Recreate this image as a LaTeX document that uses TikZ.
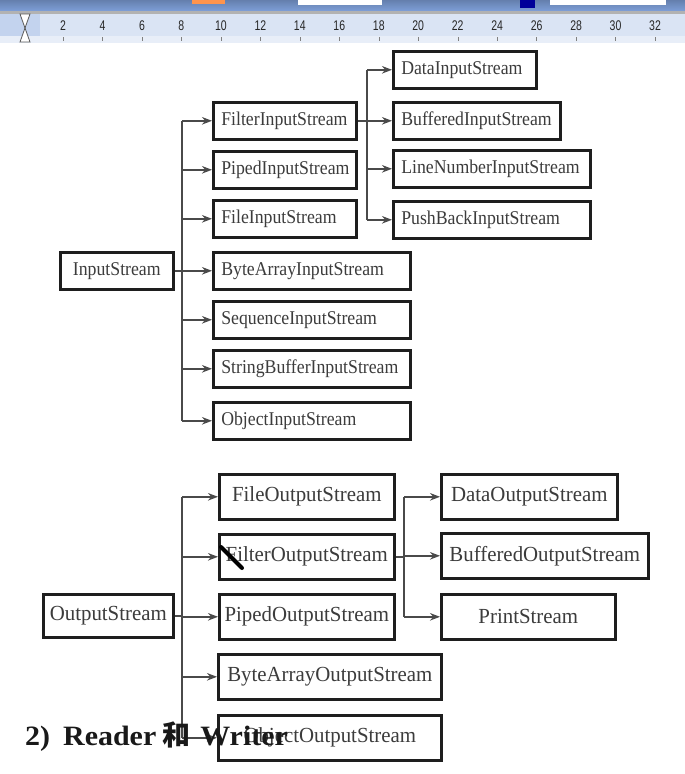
\documentclass[tikz,border=0pt]{standalone}
\usepackage{fontspec}
\setmainfont{Liberation Serif}
\newfontfamily\ifontfam[FakeStretch=0.91]{Liberation Serif}
\newfontfamily\ofontfam[FakeStretch=0.97]{Liberation Serif}
\newfontfamily\headfont[FakeStretch=1.07]{Liberation Serif}
\newfontfamily\cjkfont{Noto Sans CJK SC}
\newfontfamily\rulerfont[FakeStretch=0.75]{Liberation Sans}
\usetikzlibrary{arrows.meta}
\definecolor{boxc}{HTML}{1E1E1E}
\definecolor{linec}{HTML}{4A4A4A}
\definecolor{txtc}{HTML}{3C3C3C}
\definecolor{tbar}{HTML}{7E9FD8}
\definecolor{rulerbg}{HTML}{DAE4F4}
\definecolor{rulerdk}{HTML}{C3D3EE}
\definecolor{ticksbg}{HTML}{E8EEF8}
\tikzset{
  ibox/.style={draw=boxc, line width=2.6pt, minimum height=37pt, inner xsep=8pt, inner ysep=0pt,
    align=left, anchor=north west, text=txtc, font={\ifontfam\fontsize{19.5}{20}\selectfont}},
  obox/.style={draw=boxc, line width=2.6pt, minimum height=45pt, inner sep=0pt,
    anchor=north west, text=txtc, font={\ofontfam\fontsize{21.5}{22}\selectfont}},
  conn/.style={line width=1.6pt, draw=linec},
  arr/.style={conn, -{Stealth[length=10pt,width=7.5pt]}},
  rnum/.style={font={\rulerfont\fontsize{14}{14}\selectfont}, text=black!85, inner sep=0pt},
  heading/.style={anchor=base west, inner sep=0pt, text=black!90, font={\headfont\fontsize{28}{29}\selectfont\bfseries}}
}
\begin{document}
\begin{tikzpicture}[x=1pt,y=1pt]
\useasboundingbox (0,0) rectangle (685,-774);
\fill[white] (0,0) rectangle (685,-774);
% --- screenshot ruler strip ---
\fill[top color=tbar!80!black, bottom color=tbar] (0,0) rectangle (685,-11);
\fill[orange!80!red!70] (192,0) rectangle (225,-4);
\fill[white] (298,0) rectangle (382,-5);
\fill[blue!60!black] (520,0) rectangle (535,-8);
\fill[white] (550,0) rectangle (666,-5);
\fill[gray!60] (0,-11) rectangle (685,-14);
\fill[rulerbg] (0,-14) rectangle (685,-36);
\fill[rulerdk] (0,-14) rectangle (40,-36);
\fill[ticksbg] (0,-36) rectangle (685,-43);
\foreach \n [count=\i from 0] in {2,4,...,32} {
  \node[rnum] (r\n) at ({63+\i*39.47},-26) {\n};
  \draw[gray] ({63+\i*39.47},-37) -- ({63+\i*39.47},-41);
}
\draw[gray!70!black, fill=white, line width=0.8pt] (20,-14) -- (30,-14) -- (25,-28) -- cycle;
\draw[gray!70!black, fill=white, line width=0.8pt] (25,-28) -- (30,-42) -- (20,-42) -- cycle;
% --- InputStream hierarchy ---
\node[ibox, text width=97pt, align=center, inner xsep=8pt] (in) at (59,-251) {InputStream};
\node[ibox, text width=127pt] (filter) at (212,-101) {FilterInputStream};
\node[ibox, text width=127pt] (piped) at (212,-150) {PipedInputStream};
\node[ibox, text width=127pt] (file) at (212,-199) {FileInputStream};
\node[ibox, text width=181pt] (bytea) at (212,-251) {ByteArrayInputStream};
\node[ibox, text width=181pt] (seq) at (212,-300) {SequenceInputStream};
\node[ibox, text width=181pt] (sbuf) at (212,-349) {StringBufferInputStream};
\node[ibox, text width=181pt] (obj) at (212,-401) {ObjectInputStream};
\node[ibox, text width=127pt] (data) at (392,-50) {DataInputStream};
\node[ibox, text width=151pt] (buf) at (392,-101) {BufferedInputStream};
\node[ibox, text width=181pt] (line) at (392,-149) {LineNumberInputStream};
\node[ibox, text width=181pt] (push) at (392,-200) {PushBackInputStream};
\coordinate (ti) at (182,0);
\coordinate (tf) at (367,0);
\draw[conn] (ti |- filter.west) -- (ti |- obj.west);
\draw[conn] (in.east) -- (ti |- in.east);
\foreach \c in {filter,piped,file,bytea,seq,sbuf,obj} \draw[arr] (ti |- \c.west) -- (\c.west);
\draw[conn] (tf |- data.west) -- (tf |- push.west);
\draw[conn] (filter.east) -- (tf |- filter.east);
\foreach \c in {data,buf,line,push} \draw[arr] (tf |- \c.west) -- (\c.west);
% --- OutputStream hierarchy ---
\node[obox, minimum width=130pt, minimum height=43pt] (out) at (42,-593) {OutputStream};
\node[obox, minimum width=175pt] (fileo) at (218,-473) {FileOutputStream};
\node[obox, minimum width=175pt] (filtero) at (218,-533) {FilterOutputStream};
\node[obox, minimum width=175pt] (pipedo) at (218,-593) {PipedOutputStream};
\node[obox, minimum width=223pt] (byteo) at (217,-653) {ByteArrayOutputStream};
\node[obox, minimum width=223pt] (objo) at (217,-714) {ObjectOutputStream};
\node[obox, minimum width=176pt] (datao) at (440,-473) {DataOutputStream};
\node[obox, minimum width=207pt] (bufo) at (440,-532) {BufferedOutputStream};
\node[obox, minimum width=174pt] (print) at (440,-593) {PrintStream};
\coordinate (to) at (182,0);
\coordinate (tfo) at (404,0);
\draw[conn] (to |- fileo.west) -- (to |- objo.west);
\draw[conn] (out.east) -- (to |- out.east);
\foreach \c in {fileo,filtero,pipedo,byteo,objo} \draw[arr] (to |- \c.west) -- (\c.west);
\draw[conn] (tfo |- datao.west) -- (tfo |- print.west);
\draw[conn] (filtero.east) -- (tfo |- filtero.east);
\foreach \c in {datao,bufo,print} \draw[arr] (tfo |- \c.west) -- (\c.west);
% pen cursor mark
\draw[black, line width=4pt, line cap=round] (221,-547) -- (242,-568);
% --- heading overlapping the picture ---
\node[heading] (head) at (25,-745) {2)\hspace*{13pt}Reader\hspace*{6pt}{\cjkfont\bfseries 和}\hspace*{10pt}Writer};
\end{tikzpicture}
\end{document}
